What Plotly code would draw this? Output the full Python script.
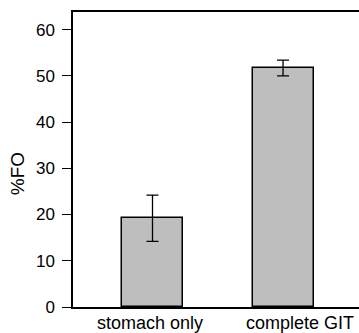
import plotly.graph_objects as go

# Frequency of occurrence (%FO) by sample type
categories = ["stomach only", "complete GIT"]
fo_values = [19.2, 51.7]
fo_errors = [5.0, 1.7]
y_ticks = [0, 10, 20, 30, 40, 50, 60]

FONT = "Liberation Sans, Arial, Helvetica, sans-serif"
x_idx = list(range(len(categories)))

fig = go.Figure()
fig.add_trace(go.Bar(
    x=x_idx,
    y=fo_values,
    width=0.467,
    marker=dict(color="#bebebe", line=dict(color="black", width=1.5)),
    error_y=dict(type="data", array=fo_errors, visible=True,
                 color="black", thickness=1.3, width=6),
    showlegend=False,
))

# category labels below the axis
label_shift = [-3, 17]
for i, name in enumerate(categories):
    fig.add_annotation(
        x=i, y=0, xref="x", yref="y", text=name, showarrow=False,
        xanchor="center", yanchor="top", yshift=-5, xshift=label_shift[i],
        font=dict(family=FONT, size=18, color="black"),
        borderpad=0,
    )

# y-axis title
fig.add_annotation(
    x=0, y=0.45, xref="paper", yref="paper", text="%FO", showarrow=False,
    textangle=-90, xanchor="center", yanchor="middle", xshift=-56,
    font=dict(family=FONT, size=19, color="black"),
)

fig.update_layout(
    width=359, height=333,
    margin=dict(l=73, r=0, t=12, b=26),
    paper_bgcolor="white", plot_bgcolor="white",
    font=dict(family=FONT, size=17, color="black"),
    bargap=0,
)
fig.update_xaxes(
    range=[-0.609, 1.582], showticklabels=False, ticks="",
    showline=True, linecolor="black", linewidth=1.5, mirror=True,
    showgrid=False, zeroline=False,
)
fig.update_yaxes(
    range=[0, 63.8], tickvals=y_ticks, ticks="outside", ticklen=9,
    tickwidth=1.3, tickcolor="black",
    showline=True, linecolor="black", linewidth=1.5, mirror=False,
    showgrid=False, zeroline=False, ticklabelstandoff=4,
    tickfont=dict(family=FONT, size=17, color="black"),
)

fig.write_html("out.html")
